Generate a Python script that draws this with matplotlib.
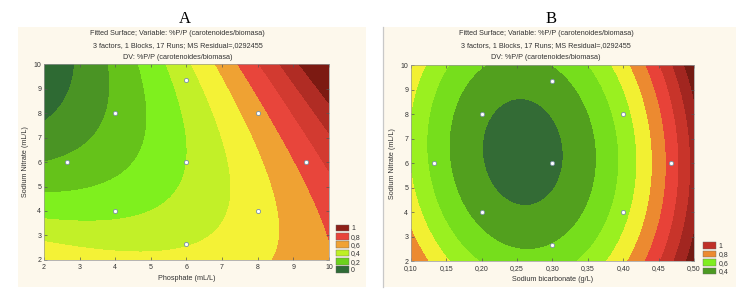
import numpy as np
import matplotlib
matplotlib.use("Agg")
import matplotlib.pyplot as plt
from matplotlib.patches import Rectangle, Patch
from matplotlib.lines import Line2D

# ---- data ----
# design points (central composite design)
phosphate_pts = [2.65, 4, 4, 6, 6, 6, 8, 8, 9.35]
nitrate_pts_a = [6, 8, 4, 9.35, 6, 2.65, 8, 4, 6]
bicarb_pts = [0.133, 0.2, 0.2, 0.3, 0.3, 0.3, 0.4, 0.4, 0.467]
nitrate_pts_b = [6, 8, 4, 9.35, 6, 2.65, 8, 4, 6]

# fitted quadratic surfaces, coefficients estimated from the contour bands
# A: u = (phosphate - 6) / 4, v = (nitrate - 6) / 4
#    terms: 1, u, v, u^2, v^2, u*v
a_coef = [0.40, 0.31, -0.025, 0.11, 0.105, 0.26]
# B: minimum of the bowl and its position, then curvature terms
#    u = (bicarb - 0.258) / 0.2, v = (nitrate - 6.45) / 4 ; terms u^2, v^2, u*v
b_min = 0.357
b_centre = [0.258, 6.45]
b_curv = [0.53, 0.145, 0.035]

a_levels = [0.1, 0.2, 0.3, 0.4, 0.5, 0.6, 0.7, 0.8, 0.9, 1.0]
a_colors = ['#2e6a33', '#4a9424', '#65c21a', '#7ff01e', '#c2f028', '#f4f236',
            '#efa233', '#e8453b', '#d23a30', '#b02c24', '#7c1a12']
b_levels = [0.4, 0.5, 0.6, 0.7, 0.8, 0.9, 1.0, 1.1, 1.2]
b_colors = ['#336b35', '#52a01e', '#76de1c', '#9af020', '#f2f032', '#ec8a30',
            '#e84238', '#c8342a', '#a22620', '#741a12']

a_leg_labels = ['1', '0,8', '0,6', '0,4', '0,2', '0']
a_leg_colors = ['#8e2018', '#e8443a', '#f0a234', '#bff025', '#6cd21c', '#2f6b36']
b_leg_labels = ['1', '0,8', '0,6', '0,4']
b_leg_colors = ['#c03028', '#ec8a30', '#80ee20', '#4c9a22']

b_xticklabels = ['0,10', '0,15', '0,20', '0,25', '0,30', '0,35', '0,40', '0,45', '0,50']

header = ["Fitted Surface; Variable: %P/P (carotenoides/biomasa)",
          "3 factors, 1 Blocks, 17 Runs; MS Residual=,0292455",
          "DV: %P/P (carotenoides/biomasa)"]


plt.rcParams['font.family'] = ['Liberation Sans', 'DejaVu Sans']
fig = plt.figure(figsize=(7.36, 2.92), dpi=100)
fig.patch.set_facecolor('white')

# cream panels
fig.patches.append(Rectangle((0.0245, 0.017), 0.473, 0.89, transform=fig.transFigure,
                             facecolor='#fdf8ec', edgecolor='none', zorder=-5))
fig.patches.append(Rectangle((0.521, 0.017), 0.479, 0.89, transform=fig.transFigure,
                             facecolor='#fdf8ec', edgecolor='none', zorder=-5))
fig.lines.append(Line2D([0.521, 0.521], [0.017, 0.907], transform=fig.transFigure,
                        color='#c8c8c8', linewidth=0.9))

ax_a = fig.add_axes([0.0598, 0.1096, 0.387, 0.6712])
ax_b = fig.add_axes([0.5584, 0.106, 0.3845, 0.671])

# surface A
gx, gy = np.meshgrid(np.linspace(2, 10, 300), np.linspace(2, 10, 300))
u = (gx - 6) / 4
v = (gy - 6) / 4
za = (a_coef[0] + a_coef[1] * u + a_coef[2] * v + a_coef[3] * u**2
      + a_coef[4] * v**2 + a_coef[5] * u * v)
ax_a.contourf(gx, gy, za, levels=[-10] + a_levels + [10], colors=a_colors)

# surface B
hx, hy = np.meshgrid(np.linspace(0.1, 0.5, 300), np.linspace(2, 10, 300))
u = (hx - b_centre[0]) / 0.2
v = (hy - b_centre[1]) / 4
zb = b_min + b_curv[0] * u**2 + b_curv[1] * v**2 + b_curv[2] * u * v
ax_b.contourf(hx, hy, zb, levels=[-10] + b_levels + [10], colors=b_colors)

ax_a.scatter(phosphate_pts, nitrate_pts_a, s=9, facecolor='white', edgecolor='#7890a0',
             linewidth=0.6, zorder=5)
ax_b.scatter(bicarb_pts, nitrate_pts_b, s=9, facecolor='white', edgecolor='#7890a0',
             linewidth=0.6, zorder=5)

ax_a.set_xlim(2, 10)
ax_a.set_ylim(2, 10)
ax_a.set_xticks(range(2, 11))
ax_a.set_yticks(range(2, 11))
ax_b.set_xlim(0.1, 0.5)
ax_b.set_ylim(2, 10)
ax_b.set_xticks(np.linspace(0.10, 0.50, 9))
ax_b.set_xticklabels(b_xticklabels)
ax_b.set_yticks(range(2, 11))

for ax in (ax_a, ax_b):
    ax.tick_params(labelsize=5.0, length=2, width=0.5, direction='in', pad=2,
                   colors='#555555', labelcolor='#333333', top=True, right=True)
    ax.tick_params(axis='x', pad=3)
    for s in ax.spines.values():
        s.set_linewidth(0.5)
        s.set_color('#999999')
    ax.set_ylabel('Sodium Nitrate (mL/L)', fontsize=5.2, color='#333333', labelpad=3)

ax_a.set_xlabel('Phosphate (mL/L)', fontsize=5.2, color='#333333', labelpad=3)
ax_b.set_xlabel('Sodium bicarbonate (g/L)', fontsize=5.2, color='#333333', labelpad=3)

ax_a.legend([Patch(facecolor=c, edgecolor='#666666', linewidth=0.3) for c in a_leg_colors],
            a_leg_labels, loc='lower left', bbox_to_anchor=(1.012, -0.09), frameon=False,
            fontsize=5.0, handlelength=1.9, handleheight=1.1, labelspacing=0.1,
            handletextpad=0.3, borderpad=0, labelcolor='#333333')
ax_b.legend([Patch(facecolor=c, edgecolor='#666666', linewidth=0.3) for c in b_leg_colors],
            b_leg_labels, loc='lower left', bbox_to_anchor=(1.02, -0.09), frameon=False,
            fontsize=5.0, handlelength=1.9, handleheight=1.1, labelspacing=0.1,
            handletextpad=0.3, borderpad=0, labelcolor='#333333')

# panel titles and headers
for cx, letter in ((0.251, 'A'), (0.749, 'B')):
    fig.text(cx, 0.936, letter, fontsize=12, family='Liberation Serif', ha='center', va='center')
for cx in (0.241, 0.742):
    for i, line in enumerate(header):
        fig.text(cx, 0.884 - i * 0.041, line, fontsize=5.2, ha='center', va='center',
                 color='#333333')

fig.savefig('out.png', dpi=100)
